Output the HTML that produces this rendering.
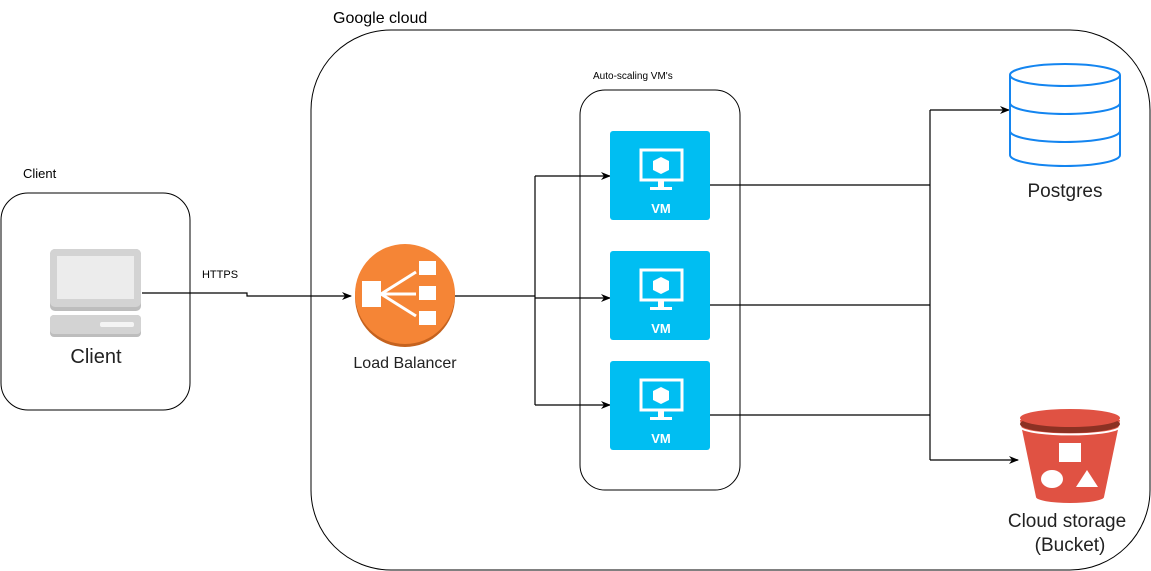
<!DOCTYPE html>
<html><head><style>body{margin:0;background:#fff}svg{display:block;font-family:"Liberation Sans",sans-serif}</style></head><body>
<svg width="1151" height="571" viewBox="0 0 1151 571">
<defs><marker id="a" markerWidth="10" markerHeight="8" refX="9" refY="4" orient="auto" markerUnits="userSpaceOnUse"><path d="M0,0 L10,4 L0,8 L3,4 Z" fill="#000"/></marker></defs>
<rect x="311" y="30" width="839" height="540" rx="80" fill="none" stroke="#000"/>
<text x="333" y="23" font-size="16">Google cloud</text>
<rect x="1" y="193" width="189" height="217" rx="27" fill="none" stroke="#000"/>
<text x="23" y="178" font-size="13">Client</text>
<rect x="580" y="90" width="160" height="400" rx="25" fill="none" stroke="#000"/>
<text x="593" y="79" font-size="10">Auto-scaling VM's</text>
<!-- client icon -->
<rect x="50" y="249" width="91" height="62" rx="5" fill="#bdbdbd"/>
<rect x="50" y="249" width="91" height="58" rx="5" fill="#d3d3d3"/>
<rect x="57" y="256" width="77" height="43" fill="#ececec"/>
<rect x="50" y="315" width="91" height="22" rx="4" fill="#bdbdbd"/>
<rect x="50" y="315" width="91" height="19" rx="4" fill="#d3d3d3"/>
<rect x="100" y="322" width="34" height="5" rx="2" fill="#f4f4f4"/>
<text x="96" y="363" font-size="20" text-anchor="middle" fill="#222">Client</text>
<!-- connectors -->
<g stroke="#000" fill="none" stroke-width="1.2">
<path d="M142,293 H247 V296 H351" marker-end="url(#a)"/>
<text x="220" y="278" font-size="11" stroke="none" fill="#000" text-anchor="middle">HTTPS</text>
<path d="M455,296 H535"/>
<path d="M535,176 V405"/>
<path d="M535,176 H610" marker-end="url(#a)"/>
<path d="M535,298 H610" marker-end="url(#a)"/>
<path d="M535,405 H610" marker-end="url(#a)"/>
<path d="M710,185 H930 M710,305 H930 M710,415 H930"/>
<path d="M930,110 V460"/>
<path d="M930,110 H1009" marker-end="url(#a)"/>
<path d="M930,460 H1018" marker-end="url(#a)"/>
</g>
<!-- LB -->
<circle cx="405" cy="297" r="50" fill="#c5621e"/>
<circle cx="405" cy="294" r="50" fill="#f58536"/>
<rect x="362" y="281" width="19" height="26" fill="#fff"/>
<rect x="419" y="261" width="17" height="14" fill="#fff"/>
<rect x="419" y="286" width="17" height="14" fill="#fff"/>
<rect x="419" y="311" width="17" height="14" fill="#fff"/>
<g stroke="#fff" stroke-width="3"><path d="M381,294 L416,272 M381,294 H416 M381,294 L416,316"/></g>
<text x="405" y="368" font-size="16" text-anchor="middle" fill="#222">Load Balancer</text>
<!-- VMs -->
<g id="vm">
<rect x="610" y="131" width="100" height="89" rx="3" fill="#00bef2"/>
<rect x="641" y="150" width="41" height="30" fill="none" stroke="#fff" stroke-width="3"/>
<path d="M661,157 L669,161 V170 L661,174 L653,170 V161 Z" fill="#fff"/>
<rect x="658" y="181" width="6" height="6" fill="#fff"/><rect x="650" y="187" width="22" height="3" fill="#fff"/>
<text x="661" y="213" font-size="13" font-weight="bold" fill="#fff" text-anchor="middle">VM</text>
</g>
<use href="#vm" y="120"/>
<use href="#vm" y="230"/>
<!-- Postgres -->
<g fill="#fff" stroke="#1485f0" stroke-width="2">
<path d="M1010,75 V155 A55,11 0 0 0 1120,155 V75"/>
<ellipse cx="1065" cy="75" rx="55" ry="11"/>
<path d="M1010,103 A55,11 0 0 0 1120,103 M1010,131 A55,11 0 0 0 1120,131" fill="none"/>
</g>
<text x="1065" y="197" font-size="19" text-anchor="middle" fill="#222">Postgres</text>
<!-- Bucket -->
<path d="M1020,420 L1036,497 A34,6 0 0 0 1104,497 L1120,420 Z" fill="#e05243"/>
<ellipse cx="1070" cy="424" rx="50" ry="9" fill="#8c3123"/>
<ellipse cx="1070" cy="418" rx="50" ry="9" fill="#e05243"/>
<path d="M1021,428 A50,8 0 0 0 1119,428" fill="none" stroke="#fff" stroke-width="2"/>
<rect x="1059" y="443" width="22" height="19" fill="#fff"/>
<ellipse cx="1052" cy="479" rx="11" ry="9" fill="#fff"/>
<path d="M1087,470 L1098,487 H1076 Z" fill="#fff"/>
<text x="1067" y="527" font-size="19" text-anchor="middle" fill="#222">Cloud storage</text>
<text x="1070" y="551" font-size="19" text-anchor="middle" fill="#222">(Bucket)</text>
</svg>
</body></html>
